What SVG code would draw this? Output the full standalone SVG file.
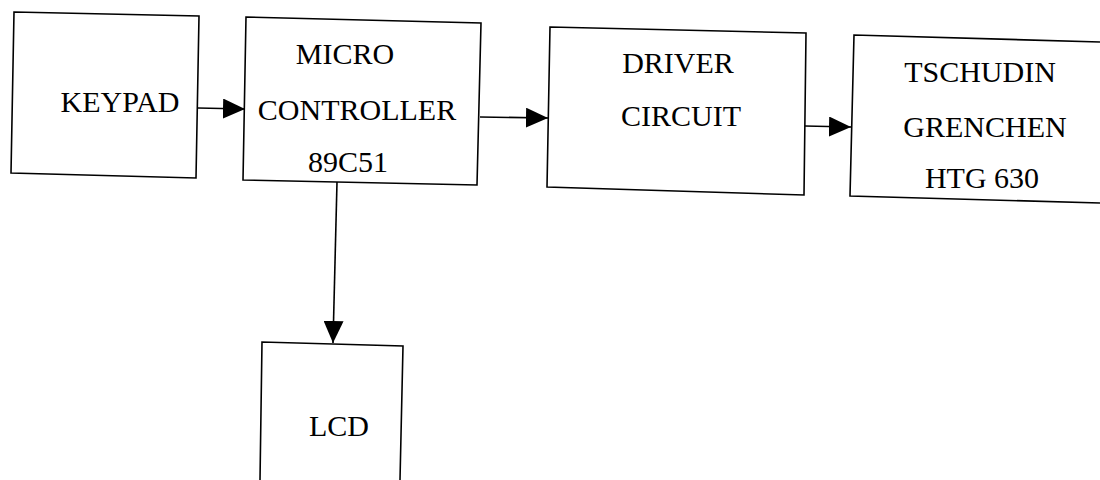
<svg xmlns="http://www.w3.org/2000/svg" width="1100" height="480" viewBox="0 0 1100 480">
<style>
.box{fill:none;stroke:#000;stroke-width:1.6;stroke-linejoin:miter}
.lbl{font-family:"Liberation Serif","Times New Roman",serif;font-size:30px;fill:#000;text-anchor:middle}
.conn{stroke:#000;stroke-width:1.6;fill:none}
</style>
<defs>
<marker id="arr" viewBox="0 0 22 20" refX="22" refY="10" markerWidth="22" markerHeight="20" orient="auto" markerUnits="userSpaceOnUse">
<path d="M0,0 L22,10 L0,20 Z" fill="#000"/>
</marker>
</defs>
<rect width="1100" height="480" fill="#fff"/>
<g id="keypad">
<polygon class="box" points="14,12 199,16 196,178 11,173"/>
<text class="lbl" x="120" y="112">KEYPAD</text>
</g>
<g id="microcontroller">
<polygon class="box" points="246,17 481,23 477,185 243,180"/>
<text class="lbl" x="345" y="64">MICRO</text>
<text class="lbl" x="357" y="120">CONTROLLER</text>
<text class="lbl" x="348" y="172">89C51</text>
</g>
<g id="driver">
<polygon class="box" points="550,27 806,33 804,195 547,187"/>
<text class="lbl" x="678" y="73">DRIVER</text>
<text class="lbl" x="681" y="126">CIRCUIT</text>
</g>
<g id="tschudin">
<polyline class="box" points="1100,42 854,35 850,196 1100,203"/>
<text class="lbl" x="980" y="82">TSCHUDIN</text>
<text class="lbl" x="985" y="137">GRENCHEN</text>
<text class="lbl" x="982" y="188">HTG 630</text>
</g>
<g id="lcd">
<polyline class="box" points="260,480 262,342 403,346 400,480"/>
<text class="lbl" x="339" y="436">LCD</text>
</g>
<g id="connectors">
<line class="conn" x1="198" y1="108" x2="245" y2="109" marker-end="url(#arr)"/>
<line class="conn" x1="480" y1="117" x2="548" y2="118" marker-end="url(#arr)"/>
<line class="conn" x1="805" y1="126" x2="851" y2="127" marker-end="url(#arr)"/>
<line class="conn" x1="337" y1="182" x2="333" y2="343" marker-end="url(#arr)"/>
</g>
</svg>
